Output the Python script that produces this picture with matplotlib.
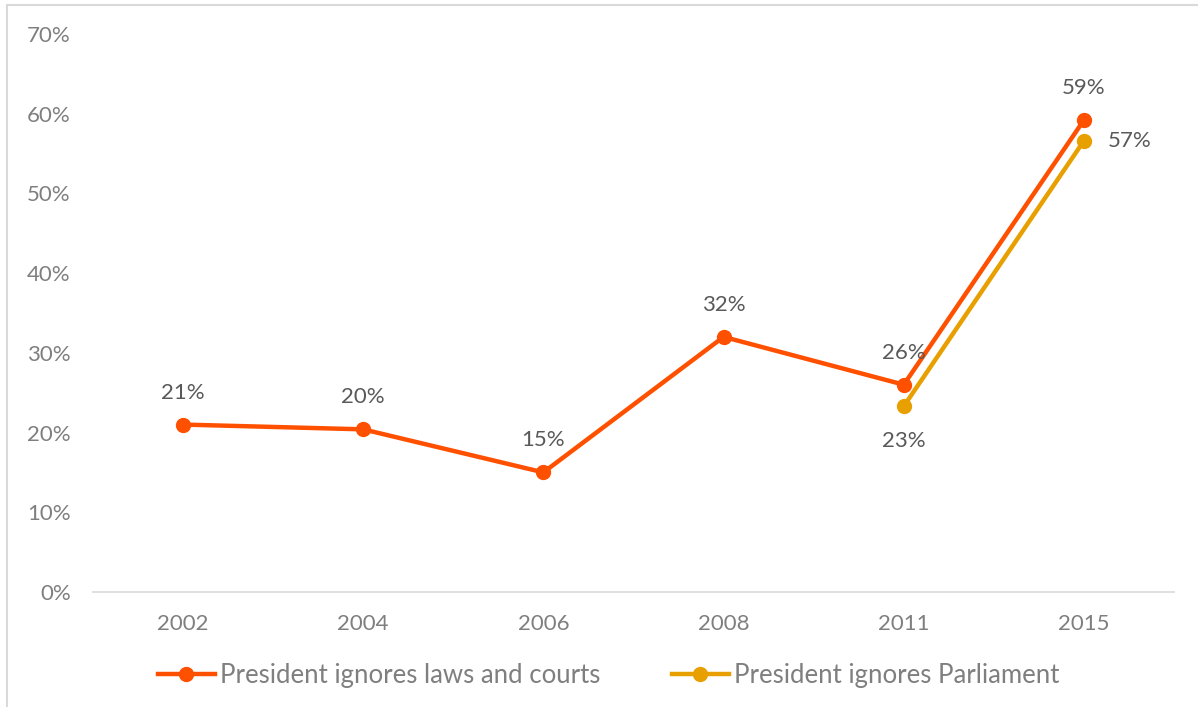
import matplotlib.pyplot as plt
from matplotlib.patches import Rectangle
from matplotlib.lines import Line2D
from matplotlib.ticker import PercentFormatter

plt.rcParams['font.family'] = ['Lato', 'DejaVu Sans']

years = ['2002', '2004', '2006', '2008', '2011', '2015']
laws_courts = [21, 20.4, 15, 32, 26, 59.2]
laws_labels = ['21%', '20%', '15%', '32%', '26%', '59%']
parl_years = ['2011', '2015']
parliament = [23.3, 56.6]
parl_labels = ['23%', '57%']

orange = '#FF5000'
gold = '#E8A000'
label_col = '#595959'
tick_col = '#7F7F7F'

fig = plt.figure(figsize=(11.98, 7.07), dpi=100)
ax = fig.add_axes([0.0776, 0.1627, 0.9024, 0.7893])

x = list(range(len(years)))
x_parl = [years.index(y) for y in parl_years]

ax.plot(x, laws_courts, color=orange, lw=3.2, marker='o', ms=10, zorder=3)
ax.plot(x_parl, parliament, color=gold, lw=3.2, marker='o', ms=10, zorder=2)

# data labels
for xi, v, lab in zip(x, laws_courts, laws_labels):
    ax.annotate(lab, (xi, v), xytext=(0, 23), textcoords='offset points',
                ha='center', va='center', fontsize=16, color=label_col)
ax.annotate(parl_labels[0], (x_parl[0], parliament[0]), xytext=(0, -25),
            textcoords='offset points', ha='center', va='center', fontsize=16, color=label_col)
ax.annotate(parl_labels[1], (x_parl[1], parliament[1]), xytext=(17, 0),
            textcoords='offset points', ha='left', va='center', fontsize=16, color=label_col)

ax.set_xlim(-0.5, len(years) - 0.5)
ax.set_ylim(0, 70)
ax.set_yticks(range(0, 71, 10))
ax.yaxis.set_major_formatter(PercentFormatter(decimals=0))
ax.set_xticks(x)
ax.set_xticklabels(years)
ax.tick_params(length=0, labelsize=16, colors=tick_col)
ax.tick_params(axis='y', pad=16)
ax.tick_params(axis='x', pad=16)
for s in ['top', 'right', 'left']:
    ax.spines[s].set_visible(False)
ax.spines['bottom'].set_color('#D9D9D9')
ax.spines['bottom'].set_linewidth(1.2)

handles = [Line2D([], [], color=orange, lw=3.2, marker='o', ms=10),
           Line2D([], [], color=gold, lw=3.2, marker='o', ms=10)]
fig.legend(handles, ['President ignores laws and courts', 'President ignores Parliament'],
           loc='center', bbox_to_anchor=(0.508, 0.044), ncol=2, frameon=False,
           fontsize=18.5, labelcolor=tick_col, handlelength=2.2, handletextpad=0.2,
           columnspacing=2.8)

# chart border
fig.patches.append(Rectangle((7 / 1198, -0.5), 1.5, 0.5 + 1 - 5 / 707,
                             transform=fig.transFigure, fill=False,
                             edgecolor='#D9D9D9', lw=1.5))

fig.savefig('out.png', dpi=100)
